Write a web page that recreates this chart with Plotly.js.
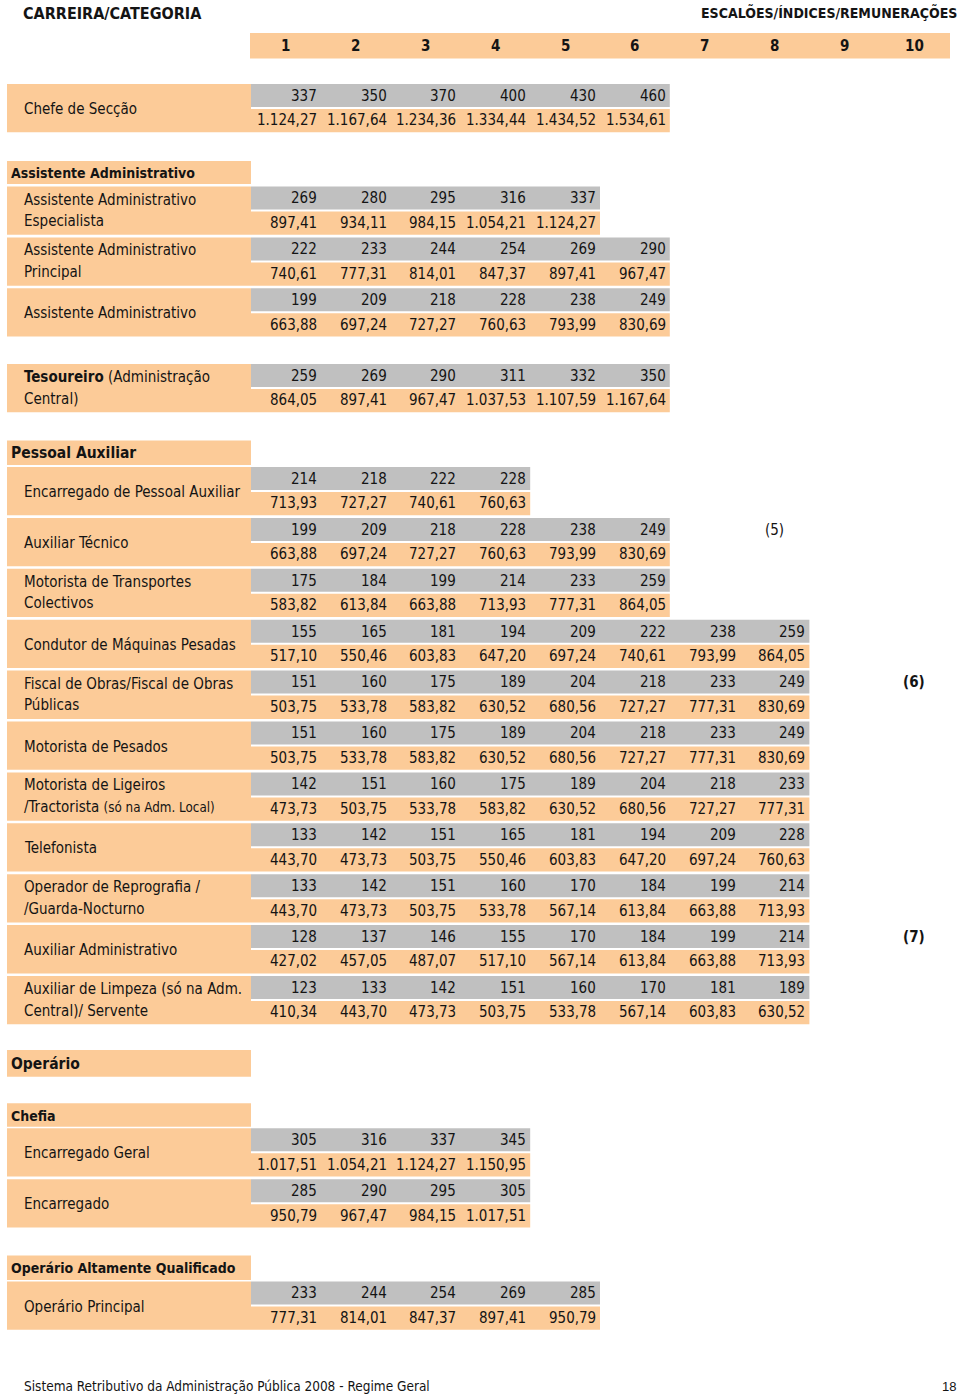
<!DOCTYPE html>
<html><head><meta charset="utf-8">
<script src="https://cdn.plot.ly/plotly-3.0.1.min.js"></script>
<style>body{margin:0;background:#fff}#chart{width:960px;height:1398px}</style>
</head><body><div id="chart"></div>
<script>
// ---------------- DATA ----------------
const escaloes = ['1','2','3','4','5','6','7','8','9','10'];
const grupos = ['Assistente Administrativo','Pessoal Auxiliar','Operário','Chefia','Operário Altamente Qualificado'];
const categorias = [
  ['Chefe de Secção'],
  ['Assistente Administrativo','Especialista'],
  ['Assistente Administrativo','Principal'],
  ['Assistente Administrativo'],
  ['<b>Tesoureiro</b> (Administração','Central)'],
  ['Encarregado de Pessoal Auxiliar'],
  ['Auxiliar Técnico'],
  ['Motorista de Transportes','Colectivos'],
  ['Condutor de Máquinas Pesadas'],
  ['Fiscal de Obras/Fiscal de Obras','Públicas'],
  ['Motorista de Pesados'],
  ['Motorista de Ligeiros','/Tractorista <span style="font-size:13.3px">(só na Adm. Local)</span>'],
  ['Telefonista'],
  ['Operador de Reprografia /','/Guarda-Nocturno'],
  ['Auxiliar Administrativo'],
  ['Auxiliar de Limpeza (só na Adm.','Central)/ Servente'],
  ['Encarregado Geral'],
  ['Encarregado'],
  ['Operário Principal']
];
const chefeSeccaoIdx = [337,350,370,400,430,460];
const chefeSeccaoRem = [1124.27,1167.64,1234.36,1334.44,1434.52,1534.61];
const assistEspecialistaIdx = [269,280,295,316,337];
const assistEspecialistaRem = [897.41,934.11,984.15,1054.21,1124.27];
const assistPrincipalIdx = [222,233,244,254,269,290];
const assistPrincipalRem = [740.61,777.31,814.01,847.37,897.41,967.47];
const assistAdminIdx = [199,209,218,228,238,249];
const assistAdminRem = [663.88,697.24,727.27,760.63,793.99,830.69];
const tesoureiroIdx = [259,269,290,311,332,350];
const tesoureiroRem = [864.05,897.41,967.47,1037.53,1107.59,1167.64];
const encPessoalAuxIdx = [214,218,222,228];
const encPessoalAuxRem = [713.93,727.27,740.61,760.63];
const auxTecnicoIdx = [199,209,218,228,238,249];
const auxTecnicoRem = [663.88,697.24,727.27,760.63,793.99,830.69];
const motTransportesIdx = [175,184,199,214,233,259];
const motTransportesRem = [583.82,613.84,663.88,713.93,777.31,864.05];
const condutorIdx = [155,165,181,194,209,222,238,259];
const condutorRem = [517.10,550.46,603.83,647.20,697.24,740.61,793.99,864.05];
const fiscalIdx = [151,160,175,189,204,218,233,249];
const fiscalRem = [503.75,533.78,583.82,630.52,680.56,727.27,777.31,830.69];
const motPesadosIdx = [151,160,175,189,204,218,233,249];
const motPesadosRem = [503.75,533.78,583.82,630.52,680.56,727.27,777.31,830.69];
const motLigeirosIdx = [142,151,160,175,189,204,218,233];
const motLigeirosRem = [473.73,503.75,533.78,583.82,630.52,680.56,727.27,777.31];
const telefonistaIdx = [133,142,151,165,181,194,209,228];
const telefonistaRem = [443.70,473.73,503.75,550.46,603.83,647.20,697.24,760.63];
const operadorIdx = [133,142,151,160,170,184,199,214];
const operadorRem = [443.70,473.73,503.75,533.78,567.14,613.84,663.88,713.93];
const auxAdministrativoIdx = [128,137,146,155,170,184,199,214];
const auxAdministrativoRem = [427.02,457.05,487.07,517.10,567.14,613.84,663.88,713.93];
const auxLimpezaIdx = [123,133,142,151,160,170,181,189];
const auxLimpezaRem = [410.34,443.70,473.73,503.75,533.78,567.14,603.83,630.52];
const encGeralIdx = [305,316,337,345];
const encGeralRem = [1017.51,1054.21,1124.27,1150.95];
const encarregadoIdx = [285,290,295,305];
const encarregadoRem = [950.79,967.47,984.15,1017.51];
const opPrincipalIdx = [233,244,254,269,285];
const opPrincipalRem = [777.31,814.01,847.37,897.41,950.79];
const notas = ['(5)','(6)','(7)'];
const notasCategoria = [6,9,14];
const notasEscalao = [8,10,10];

const indices = [chefeSeccaoIdx,assistEspecialistaIdx,assistPrincipalIdx,assistAdminIdx,tesoureiroIdx,
  encPessoalAuxIdx,auxTecnicoIdx,motTransportesIdx,condutorIdx,fiscalIdx,motPesadosIdx,motLigeirosIdx,
  telefonistaIdx,operadorIdx,auxAdministrativoIdx,auxLimpezaIdx,encGeralIdx,encarregadoIdx,opPrincipalIdx];
const remuneracoes = [chefeSeccaoRem,assistEspecialistaRem,assistPrincipalRem,assistAdminRem,tesoureiroRem,
  encPessoalAuxRem,auxTecnicoRem,motTransportesRem,condutorRem,fiscalRem,motPesadosRem,motLigeirosRem,
  telefonistaRem,operadorRem,auxAdministrativoRem,auxLimpezaRem,encGeralRem,encarregadoRem,opPrincipalRem];

// ---------------- LAYOUT PLAN ----------------
const ORANGE = '#FCCB98', GRAY = '#C0C0C0', TXT = '#141414';
const FONT = 'DejaVu Sans Condensed, DejaVu Sans, sans-serif';
const X0 = 251, CW = 69.8, LX0 = 7;
const PITCH = 50.9, ITEM_H = 48.3, GRAY_H = 23, ORANGE_TOP = 25;
const plan = [
  {g:null, items:[0], top:84},
  {g:0, gTop:161, gH:23, gSize:14, items:[1,2,3], top:186.5},
  {g:null, items:[4], top:364},
  {g:1, gTop:440.5, gH:24.5, gSize:15.5, items:[5,6,7,8,9,10,11,12,13,14,15], top:467},
  {g:2, gTop:1050, gH:26.7, gSize:15.5, items:[], top:0},
  {g:3, gTop:1103.3, gH:23.4, gSize:14, items:[16,17], top:1128.3},
  {g:4, gTop:1255.5, gH:24.5, gSize:14, items:[18], top:1281.5}
];

function fmt(v){
  const p = v.toFixed(2).split('.');
  return p[0].replace(/\B(?=(\d{3})+(?!\d))/g,'.') + ',' + p[1];
}

const orange = {y:[],x:[],base:[],width:[]};
const gray = {y:[],x:[],base:[],width:[]};
function rect(o,x0,x1,y0,y1){o.y.push((y0+y1)/2);o.width.push(y1-y0);o.base.push(x0);o.x.push(x1-x0);}
const ann = [];
function txt(text,x,y,xa,size,extra){
  ann.push(Object.assign({text:text,x:x,y:y,xref:'x',yref:'y',xanchor:xa,yanchor:'middle',showarrow:false,
    font:{family:FONT,size:size,color:TXT},borderpad:0},extra||{}));
}

// header band
rect(orange,250,950,33,58.5);
escaloes.forEach((e,i)=>txt('<b>'+e+'</b>',X0+CW*(i+0.5),46.3,'center',15));
txt('<b>CARREIRA/CATEGORIA</b>',22,13,'left',16);
txt('<b>ESCALÕES/ÍNDICES/REMUNERAÇÕES</b>',958,12,'right',14);

const itemTop = {};
plan.forEach(sec=>{
  if(sec.g!==null){
    rect(orange,LX0,X0,sec.gTop,sec.gTop+sec.gH);
    txt('<b>'+grupos[sec.g]+'</b>',10,sec.gTop+sec.gH/2+0.5,'left',sec.gSize);
  }
  sec.items.forEach((c,k)=>{
    const T = sec.top + k*PITCH;
    itemTop[c] = T;
    const n = indices[c].length;
    rect(orange,LX0,X0,T,T+ITEM_H);
    rect(gray,X0,X0+n*CW,T,T+GRAY_H);
    rect(orange,X0,X0+n*CW,T+ORANGE_TOP,T+ITEM_H);
    const lines = categorias[c];
    if(lines.length===1) txt(lines[0],22.5,T+25,'left',15);
    else { txt(lines[0],22.5,T+13,'left',15); txt(lines[1],22.5,T+34.5,'left',15); }
    indices[c].forEach((v,i)=>txt(String(v),X0+CW*(i+1)-3,T+11.8,'right',15));
    remuneracoes[c].forEach((v,i)=>txt(fmt(v),X0+CW*(i+1)-3,T+36.3,'right',15));
  });
});
notas.forEach((n,i)=>{
  const T = itemTop[notasCategoria[i]];
  txt(i===0?n:'<b>'+n+'</b>',X0+CW*(notasEscalao[i]-0.5),T+11.8,'center',15);
});
txt('Sistema Retributivo da Administração Pública 2008 - Regime Geral',22.5,1386,'left',13.5);
txt('18',957,1386,'right',13,{font:{family:'Liberation Sans, Arial, sans-serif',size:13,color:TXT}});

function barTrace(o,color){
  return {type:'bar',orientation:'h',y:o.y,x:o.x,base:o.base,width:o.width,
    marker:{color:color,line:{width:0}},hoverinfo:'skip',showlegend:false};
}
const data = [barTrace(orange,ORANGE),barTrace(gray,GRAY)];
const layout = {
  width:960,height:1398,margin:{l:0,r:0,t:0,b:0},
  paper_bgcolor:'#fff',plot_bgcolor:'#fff',barmode:'overlay',showlegend:false,
  xaxis:{range:[0,960],visible:false,fixedrange:true},
  yaxis:{range:[1398,0],visible:false,fixedrange:true},
  annotations:ann
};
Plotly.newPlot('chart',data,layout,{staticPlot:true,displayModeBar:false});
</script></body></html>
